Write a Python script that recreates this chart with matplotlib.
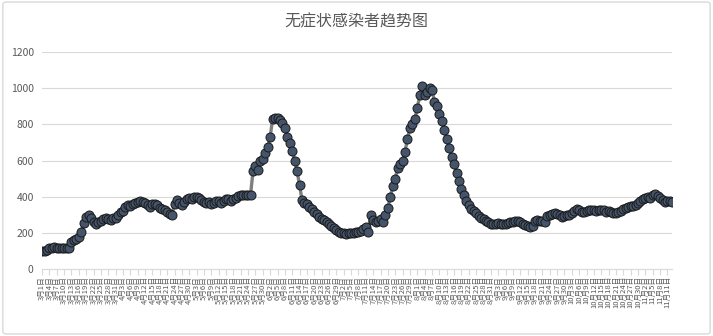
import datetime as dt
import matplotlib.pyplot as plt
from matplotlib.patches import FancyBboxPatch

plt.rcParams['font.family'] = ['Noto Sans CJK SC', 'DejaVu Sans']

start_date = dt.date(2022, 3, 1)

cases = [
    100, 103, 106, 115, 118, 120, 118, 117, 116, 117,
    118, 118, 150, 160, 166, 178, 206, 254, 290, 300,
    285, 260, 252, 262, 268, 275, 282, 278, 272, 280,
    285, 300, 315, 320, 345, 355, 350, 360, 365, 372,
    375, 370, 365, 355, 345, 360, 362, 355, 340, 335,
    325, 315, 305, 300, 360, 380, 365, 355, 370, 385,
    395, 390, 398, 400, 395, 380, 372, 365, 370, 362,
    368, 375, 378, 365, 375, 390, 385, 378, 385, 395,
    405, 408, 410, 410, 412, 410, 540, 570, 550, 600,
    610, 640, 675, 730, 830, 835, 838, 824, 806, 780,
    730, 697, 654, 600, 540, 465, 380, 368, 360, 345,
    330, 318, 305, 290, 278, 272, 258, 250, 240, 230,
    218, 208, 202, 198, 197, 198, 198, 200, 204, 208,
    212, 220, 235, 205, 300, 270, 262, 268, 275, 260,
    300, 340, 400, 460, 500, 560, 580, 600, 650, 720,
    780, 800, 830, 890, 960, 1015, 965, 980, 1000, 990,
    925, 900, 860, 820, 770, 720, 670, 620, 580, 530,
    485, 445, 410, 375, 355, 335, 320, 308, 295, 285,
    275, 265, 258, 250, 248, 252, 255, 250, 248, 252,
    255, 258, 262, 268, 265, 262, 250, 245, 240, 235,
    240, 268, 272, 268, 265, 262, 295, 300, 305, 310,
    305, 298, 290, 295, 300, 298, 312, 322, 330, 325,
    318, 315, 320, 326, 325, 328, 324, 326, 328, 325,
    318, 322, 318, 312, 310, 315, 322, 330, 340, 345,
    350, 348, 355, 365, 375, 385, 392, 400, 395, 410,
    418, 405, 395, 380, 372, 375, 378, 372,
]

dates = [start_date + dt.timedelta(days=i) for i in range(len(cases))]
date_labels = [f'{d.month}月{d.day}日' for d in dates]
x = list(range(len(cases)))

fig = plt.figure(figsize=(7.13, 3.36), dpi=100)
fig.patches.append(FancyBboxPatch((0.004, 0.006), 0.992, 0.988,
                                  boxstyle='round,pad=0,rounding_size=0.006',
                                  transform=fig.transFigure, fill=False,
                                  edgecolor='#d9d9d9', linewidth=1))
ax = fig.add_axes([0.059, 0.199, 0.884, 0.646])

ax.plot(x, cases, color='#7f7f7f', linewidth=2.4, marker='o', markersize=6.5,
        markerfacecolor='#44546a', markeredgecolor='#1a1a1a', markeredgewidth=0.7,
        zorder=3)

ax.set_ylim(0, 1200)
ax.set_yticks(range(0, 1201, 200))
ax.set_xlim(0, len(cases) - 1)
tick_pos = x[::3]
ax.set_xticks(tick_pos)
ax.set_xticklabels([date_labels[i] for i in tick_pos], rotation=90, fontsize=5.5,
                   color='#595959')
ax.tick_params(axis='y', length=0, labelsize=7.5, labelcolor='#595959', pad=6)
ax.tick_params(axis='x', length=4, color='#d9d9d9', pad=1)
ax.grid(axis='y', color='#d9d9d9', linewidth=0.8)
ax.set_axisbelow(True)
for side in ['top', 'right', 'left']:
    ax.spines[side].set_visible(False)
ax.spines['bottom'].set_color('#d9d9d9')

fig.text(0.5, 0.935, '无症状感染者趋势图', ha='center', va='center', fontsize=11.5,
         color='#595959')

fig.savefig('out.png', dpi=100)
